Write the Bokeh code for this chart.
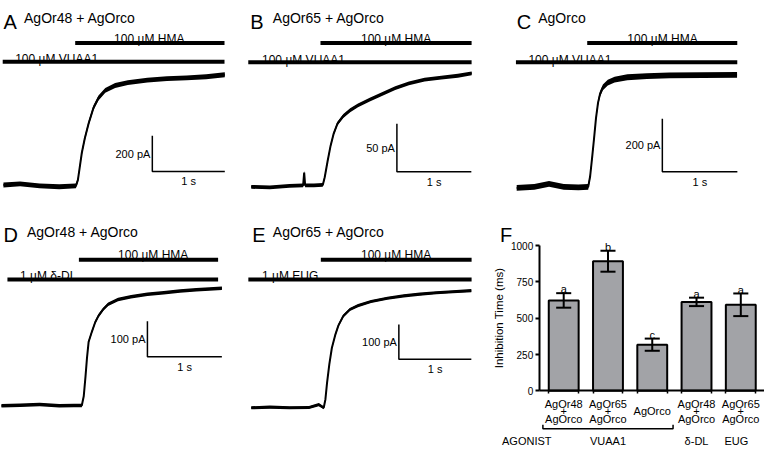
from bokeh.plotting import figure
from bokeh.layouts import row, column
from bokeh.models import Range1d, Label, FixedTicker, LinearAxis
from bokeh.embed import file_html
from bokeh.resources import INLINE
from bokeh.core.properties import value

FONT = "Liberation Sans"

# ---------------- data: whole-cell currents (time in s, current in pA, baseline = 0) ----------------
a_t = [0, 0.23, 0.50, 0.77, 1.00, 1.027, 1.054, 1.081, 1.122, 1.176, 1.243, 1.311, 1.405, 1.541, 1.716, 1.986, 2.257, 2.527, 2.797, 3.054]
a_i = [5, 11, 0, -5, 0, 32, 108, 184, 265, 351, 438, 492, 535, 562, 578, 592, 600, 605, 611, 622]

b_t = [0, 0.25, 0.513, 0.697, 0.711, 0.724, 0.842, 0.961, 0.987, 1.026, 1.066, 1.105, 1.158, 1.237, 1.329, 1.434, 1.592, 1.763, 1.934, 2.118, 2.329, 2.553, 2.776, 2.961]
b_i = [0, -0.5, 1, 1.5, 15, 1.5, 1.5, 2, 10, 27, 43, 55, 66, 74, 80, 85, 91, 97, 103, 108, 112, 114, 116, 118.5]

c_t = [0, 0.235, 0.431, 0.627, 0.822, 0.953, 0.979, 1.005, 1.031, 1.057, 1.084, 1.110, 1.149, 1.214, 1.305, 1.475, 1.736, 2.037, 2.480, 2.937]
c_i = [-4, 0, 11, 0, -2, 0, 40, 110, 183, 260, 318, 351, 377, 395, 406, 415, 419, 422, 423, 424]

d_t = [0, 0.25, 0.513, 0.776, 0.974, 1.079, 1.105, 1.128, 1.149, 1.171, 1.214, 1.259, 1.303, 1.368, 1.434, 1.566, 1.741, 1.961, 2.180, 2.399, 2.618, 2.793, 2.961]
d_i = [-1, 1, 3, -1, 0, 0, 26, 80, 135, 180, 208, 235, 253, 272, 286, 299, 307, 314, 318, 323, 327, 329, 331]

e_t = [0, 0.257, 0.527, 0.797, 0.932, 1.0, 1.023, 1.045, 1.077, 1.112, 1.158, 1.203, 1.27, 1.361, 1.473, 1.653, 1.878, 2.104, 2.328, 2.554, 2.780, 3.036]
e_i = [-1, 1, -1, 0, 8, -1, 23, 69, 124, 171, 208, 236, 263, 282, 293, 305, 314, 321, 326, 330, 333, 336]

# stimulus applications: (label, start s, end s)
a_stim = [("100 µM HMA", 0.99, 3.05), ("100 µM VUAA1", -0.01, 3.05)]
b_stim = [("100 µM HMA", 0.93, 2.96), ("100 µM VUAA1", -0.04, 2.96)]
c_stim = [("100 µM HMA", 0.94, 2.94), ("100 µM VUAA1", -0.01, 2.94)]
d_stim = [("100 µM HMA", 1.04, 2.91), ("1 µM δ-DL", 0.08, 2.91)]
e_stim = [("100 µM HMA", 0.96, 3.04), ("1 µM EUG", -0.04, 3.04)]

panel_titles = ["AgOr48 + AgOrco", "AgOr65 + AgOrco", "AgOrco", "AgOr48 + AgOrco", "AgOr65 + AgOrco"]
scale_pa = [200, 50, 200, 100, 100]
scale_s = 1

# ---------------- data: inhibition time bar chart ----------------
receptors = ["AgOr48", "AgOr65", None, "AgOr48", "AgOr65"]
coreceptor = "AgOrco"
means = [623, 893, 318, 613, 593]
sems = [50, 72, 42, 29, 78]
sig = ["a", "b", "c", "a", "a"]
agonists = ["VUAA1", "δ-DL", "EUG"]
agonist_bars = [[0, 1, 2], [3], [4]]
yticks = [0, 250, 500, 750, 1000]

# ---------------- layout helpers (content pixel -> reference pixel) ----------------
W, H = 764, 447


def rx_of(c):
    return c * 780 / W


def ry_of(c):
    return c * 463 / H


def label(p, x, y, text, size, align="left", baseline="alphabetic"):
    p.add_layout(Label(x=x, y=y, text=text, text_font=FONT, text_font_size=size,
                       text_align=align, text_baseline=baseline, text_color="black"))


def texts(p, x, y, txt, size="11px", baseline="alphabetic"):
    p.text(x=x, y=y, text=txt, text_font=value(FONT), text_font_size=size,
           text_align="center", text_baseline=baseline, text_color="black")


def blank_fig(box, X, Y):
    cx0, cx1, cy0, cy1 = box
    p = figure(width=cx1 - cx0, height=cy1 - cy0,
               x_range=Range1d(X(rx_of(cx0)), X(rx_of(cx1))),
               y_range=Range1d(Y(ry_of(cy1)), Y(ry_of(cy0))),
               x_axis_location=None, y_axis_location=None, min_border=0,
               output_backend="svg", toolbar_location=None)
    p.grid.visible = False
    p.outline_line_color = None
    return p


def trace_panel(cfg, letter, title, t, cur, stims, spa):
    X = lambda rx: (rx - cfg["t0"]) / cfg["pps"]
    Y = lambda ry: (cfg["base"] - ry) / cfg["ppa"]
    p = blank_fig(cfg["box"], X, Y)
    n = cfg["noise"] / cfg["ppa"]
    p.varea(x=t, y1=[v - n for v in cur], y2=[v + n for v in cur], fill_color="black")
    p.line(t, cur, line_color="black", line_width=2)
    for (name, s, e), by, (lx, ly) in zip(stims, cfg["bar_y"], cfg["bar_lab"]):
        p.segment(x0=[s], y0=[Y(by)], x1=[e], y1=[Y(by)], line_width=4,
                  line_color="black", line_cap="butt")
        label(p, X(lx), Y(ly), name, "12px")
    crx, cry = cfg["corner"]
    c_t, c_i = X(crx), Y(cry)
    p.line([c_t, c_t, c_t + scale_s], [c_i + spa, c_i, c_i], line_color="black", line_width=1.5)
    label(p, X(crx - 2), c_i + spa / 2, f"{spa} pA", "11px", align="right", baseline="middle")
    label(p, c_t + scale_s / 2, Y(cry + 4), f"{scale_s} s", "11px", align="center", baseline="top")
    lx, ly = cfg["letter"]
    label(p, X(lx), Y(ly), letter, "20px")
    tx, ty = cfg["title"]
    label(p, X(tx), Y(ty), title, "14px")
    return p


cfgs = [
    dict(box=(0, 243, 0, 205), t0=3, base=192, pps=74, ppa=37 / 200, noise=2.5,
         letter=(3, 22.5), title=(24, 18.5), bar_y=[44, 63.5], bar_lab=[(116, 39.5), (15, 61)],
         corner=(155, 177)),
    dict(box=(243, 495, 0, 205), t0=256, base=193, pps=76, ppa=49.6 / 50, noise=2,
         letter=(255, 22.5), title=(278, 18.5), bar_y=[44, 64], bar_lab=[(368, 39.5), (267, 61.5)],
         corner=(404.7, 177.3)),
    dict(box=(495, 764, 0, 205), t0=527, base=193, pps=76.6, ppa=54.7 / 200, noise=3,
         letter=(527, 22.5), title=(549, 18.5), bar_y=[44, 64], bar_lab=[(640, 39.5), (539, 61.5)],
         corner=(675.7, 177.3)),
    dict(box=(0, 243, 205, 447), t0=1, base=419.5, pps=76, ppa=36.7 / 100, noise=1.8,
         letter=(3, 243), title=(27, 240), bar_y=[268.5, 289], bar_lab=[(120, 264), (20, 285.5)],
         corner=(150, 369)),
    dict(box=(243, 490, 205, 447), t0=256, base=421.5, pps=74, ppa=36 / 100, noise=1.6,
         letter=(257, 242.5), title=(278, 240), bar_y=[268.5, 289], bar_lab=[(368, 264), (267, 285.5)],
         corner=(406.7, 371.7)),
]

traces = [(a_t, a_i, a_stim), (b_t, b_i, b_stim), (c_t, c_i, c_stim), (d_t, d_i, d_stim), (e_t, e_i, e_stim)]
panels = []
for k, (cfg, (t, cur, st)) in enumerate(zip(cfgs, traces)):
    panels.append(trace_panel(cfg, "ABCDE"[k], panel_titles[k], t, cur, st, scale_pa[k]))

# ---------------- panel F ----------------
XF = lambda rx: (rx - 575) / 45.2
YF = lambda ry: (404.3 - ry) / 0.1503
PXU = 1 / 0.1503  # data units per reference px (vertical)
AXIS_RX = 550     # reference x of the y axis

pF = blank_fig((490, 764, 205, 447), XF, YF)
xs = list(range(len(means)))
bw = 0.675
edges = [x + s * bw / 2 for x in xs for s in (-1, 1)]

yax = LinearAxis(fixed_location=XF(AXIS_RX), bounds=(0, 1000), ticker=FixedTicker(ticks=yticks),
                 axis_line_width=2, major_tick_line_width=2, major_tick_out=4, major_tick_in=0,
                 minor_tick_line_color=None, major_label_text_font=FONT,
                 major_label_text_font_size="10px", major_label_standoff=2,
                 major_label_text_color="black",
                 axis_label="Inhibition Time (ms)", axis_label_text_font=FONT,
                 axis_label_text_font_size="11.5px", axis_label_text_font_style="normal",
                 axis_label_text_color="black", axis_label_standoff=3)
pF.add_layout(yax, "left")
xax = LinearAxis(fixed_location=0, bounds=(XF(AXIS_RX), pF.x_range.end), ticker=FixedTicker(ticks=edges),
                 axis_line_width=2, major_tick_line_width=1.5, major_tick_out=3, major_tick_in=0,
                 minor_tick_line_color=None, major_label_text_color=None)
pF.add_layout(xax, "below")

pF.vbar(x=xs, top=means, bottom=0, width=bw, fill_color="#a2a3a7",
        line_color="black", line_width=2)
lo = [m - s for m, s in zip(means, sems)]
hi = [m + s for m, s in zip(means, sems)]
cap = 0.17
pF.segment(x0=xs, y0=lo, x1=xs, y1=hi, line_color="black", line_width=2)
pF.segment(x0=[x - cap for x in xs], y0=hi, x1=[x + cap for x in xs], y1=hi, line_color="black", line_width=2)
pF.segment(x0=[x - cap for x in xs], y0=lo, x1=[x + cap for x in xs], y1=lo, line_color="black", line_width=2)
texts(pF, xs, [h + 4 * PXU for h in hi], sig)

rx_i = [x for x, r in zip(xs, receptors) if r]
texts(pF, rx_i, [YF(418)] * len(rx_i), [r for r in receptors if r])
texts(pF, rx_i, [YF(425.5)] * len(rx_i), ["+"] * len(rx_i), size="11px")
texts(pF, rx_i, [YF(433.5)] * len(rx_i), [coreceptor] * len(rx_i))
solo = [x for x, r in zip(xs, receptors) if not r]
texts(pF, solo, [YF(425.5)] * len(solo), [coreceptor] * len(solo))

pad = 0.47
for name, bars in zip(agonists, agonist_bars):
    if len(bars) > 1:
        x0, x1 = bars[0] - pad, bars[-1] + pad
        pF.line([x0, x0, x1, x1], [YF(439.5), YF(443.5), YF(443.5), YF(439.5)],
                line_color="black", line_width=1.5)
    xc = (bars[0] + bars[-1]) / 2 - (0.1 if name == "EUG" else 0)
    texts(pF, [xc], [YF(456)], [name])
label(pF, XF(512), YF(456), "AGONIST", "11px")
label(pF, XF(510), YF(243), "F", "20px")

layout = column(row(panels[0], panels[1], panels[2], spacing=0),
                row(panels[3], panels[4], pF, spacing=0),
                spacing=0)

open("out.html", "w").write(file_html(layout, INLINE))
